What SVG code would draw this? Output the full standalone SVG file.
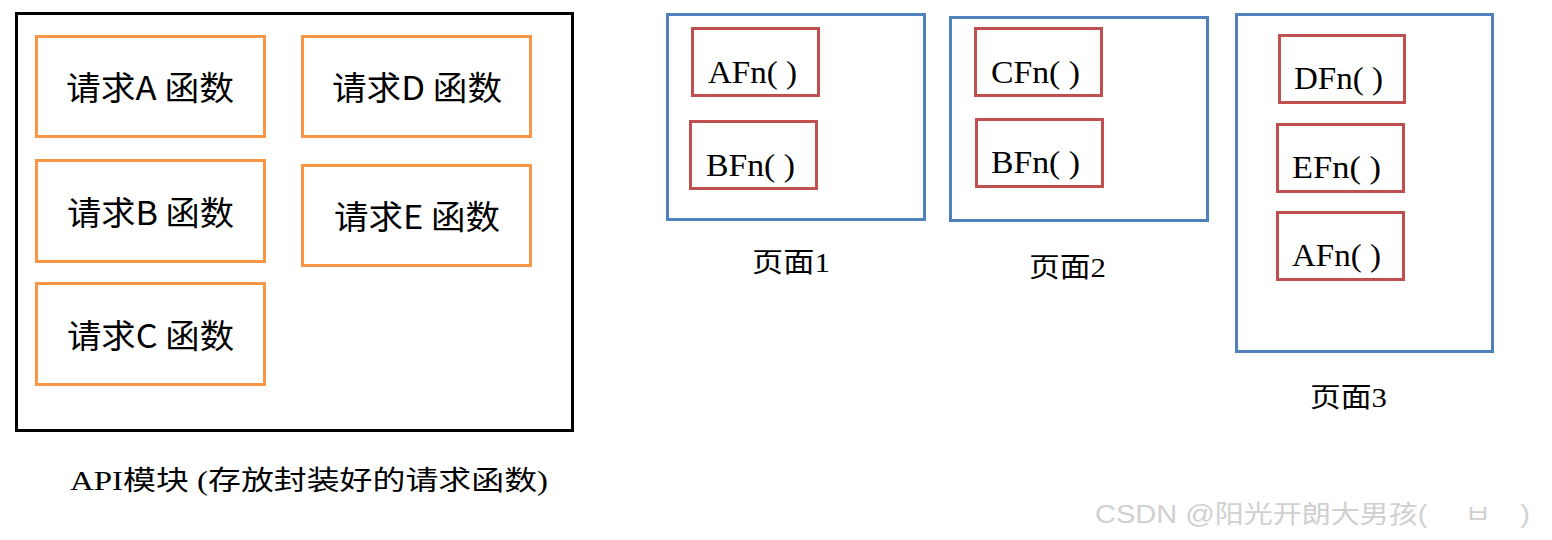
<svg xmlns="http://www.w3.org/2000/svg" width="1552" height="540" viewBox="0 0 1552 540">
<style>
.bg{fill:#fff}
.module{fill:none;stroke:#000;stroke-width:3}
.req{fill:none;stroke:#F79646;stroke-width:3}
.page{fill:none;stroke:#4F81BD;stroke-width:3}
.fn{fill:none;stroke:#C0504D;stroke-width:3}
.reqt{font-family:"Noto Sans CJK SC","Liberation Sans",sans-serif;font-size:33px;fill:#000}
.fnt{font-family:"Liberation Serif","Noto Sans CJK SC",serif;font-size:31px;fill:#000}
.lbl{font-family:"Liberation Serif","Noto Sans CJK SC",serif;font-size:27px;fill:#000}
.wm{font-family:"Liberation Sans","Noto Sans CJK SC","Noto Sans CJK KR",sans-serif;font-size:25px;fill:#d0d0d0}
</style>
<rect class="bg" x="0" y="0" width="1552" height="540"/>
<g id="api-module">
  <rect class="module" x="16.5" y="13.5" width="556" height="417"/>
  <text class="lbl" x="70" y="490" textLength="478" lengthAdjust="spacingAndGlyphs">API模块 (存放封装好的请求函数)</text>
</g>
<g id="reqA"><rect class="req" x="36.5" y="36.5" width="228" height="100"/><text class="reqt" x="66" y="100" textLength="168" lengthAdjust="spacingAndGlyphs">请求A 函数</text></g>
<g id="reqD"><rect class="req" x="302.5" y="36.5" width="228" height="100"/><text class="reqt" x="332" y="100" textLength="170" lengthAdjust="spacingAndGlyphs">请求D 函数</text></g>
<g id="reqB"><rect class="req" x="36.5" y="160.5" width="228" height="101"/><text class="reqt" x="67" y="225" textLength="167" lengthAdjust="spacingAndGlyphs">请求B 函数</text></g>
<g id="reqE"><rect class="req" x="302.5" y="165.5" width="228" height="100"/><text class="reqt" x="334" y="229" textLength="166" lengthAdjust="spacingAndGlyphs">请求E 函数</text></g>
<g id="reqC"><rect class="req" x="36.5" y="283.5" width="228" height="101"/><text class="reqt" x="67" y="348" textLength="167" lengthAdjust="spacingAndGlyphs">请求C 函数</text></g>

<g id="page1">
  <rect class="page" x="667.5" y="14.5" width="257" height="205"/>
  <text class="lbl" x="752" y="272" textLength="78" lengthAdjust="spacingAndGlyphs">页面1</text>
</g>
<g id="p1-afn"><rect class="fn" x="692.5" y="28.5" width="126" height="67"/><text class="fnt" x="708" y="83" textLength="89" lengthAdjust="spacingAndGlyphs">AFn( )</text></g>
<g id="p1-bfn"><rect class="fn" x="690.5" y="121.5" width="126" height="67"/><text class="fnt" x="706" y="176" textLength="89" lengthAdjust="spacingAndGlyphs">BFn( )</text></g>

<g id="page2">
  <rect class="page" x="950.5" y="17.5" width="257" height="203"/>
  <text class="lbl" x="1029" y="277" textLength="77" lengthAdjust="spacingAndGlyphs">页面2</text>
</g>
<g id="p2-cfn"><rect class="fn" x="975.5" y="28.5" width="126" height="67"/><text class="fnt" x="991" y="83" textLength="89" lengthAdjust="spacingAndGlyphs">CFn( )</text></g>
<g id="p2-bfn"><rect class="fn" x="976.5" y="119.5" width="126" height="67"/><text class="fnt" x="991" y="173" textLength="89" lengthAdjust="spacingAndGlyphs">BFn( )</text></g>

<g id="page3">
  <rect class="page" x="1236.5" y="14.5" width="256" height="337"/>
  <text class="lbl" x="1310" y="407" textLength="77" lengthAdjust="spacingAndGlyphs">页面3</text>
</g>
<g id="p3-dfn"><rect class="fn" x="1279.5" y="35.5" width="125" height="67"/><text class="fnt" x="1294" y="89" textLength="89" lengthAdjust="spacingAndGlyphs">DFn( )</text></g>
<g id="p3-efn"><rect class="fn" x="1277.5" y="124.5" width="126" height="67"/><text class="fnt" x="1292" y="178" textLength="89" lengthAdjust="spacingAndGlyphs">EFn( )</text></g>
<g id="p3-afn"><rect class="fn" x="1277.5" y="212.5" width="126" height="67"/><text class="fnt" x="1292" y="266" textLength="89" lengthAdjust="spacingAndGlyphs">AFn( )</text></g>

<g id="connectors"></g>
<text class="wm" x="1095" y="523" textLength="435" lengthAdjust="spacingAndGlyphs">CSDN @阳光开朗大男孩(　 ㅂ　)</text>
</svg>
